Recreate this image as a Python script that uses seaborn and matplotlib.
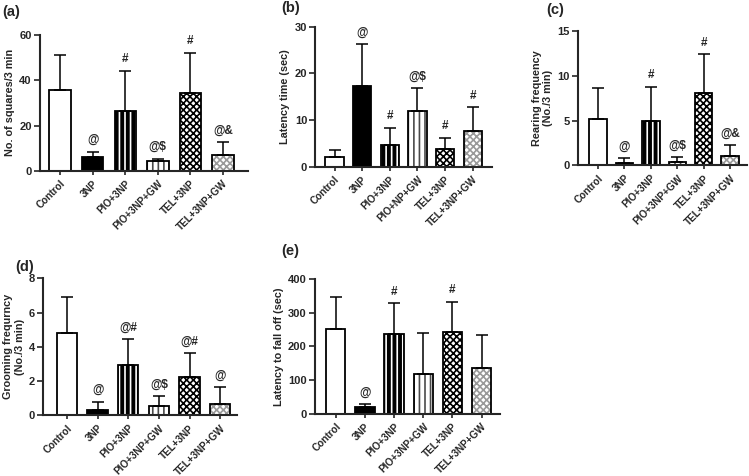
import numpy as np
import matplotlib
matplotlib.use('Agg')
import matplotlib.pyplot as plt
import seaborn as sns
from matplotlib.patches import Rectangle

# groups on the x axis
groups = ['Control', '3NP', 'PIO+3NP', 'PIO+3NP+GW', 'TEL+3NP', 'TEL+3NP+GW']
groups_b = ['Control', '3NP', 'PIO+3NP', 'PIO+NP+GW', 'TEL+3NP', 'TEL+3NP+GW']

# (a) open field - squares crossed
squares_mean = [35.8, 6.1, 26.5, 4.4, 34.5, 7.0]
squares_sd = [15.5, 2.4, 17.6, 1.0, 17.6, 5.8]
squares_sig = ['', '@', '#', '@$', '#', '@&']

# (b) latency time
latency_mean = [2.1, 17.3, 4.6, 11.9, 3.9, 7.6]
latency_sd = [1.5, 9.0, 3.7, 4.9, 2.3, 5.1]
latency_sig = ['', '@', '#', '@$', '#', '#']

# (c) rearing
rearing_mean = [5.2, 0.3, 5.0, 0.4, 8.1, 1.0]
rearing_sd = [3.45, 0.5, 3.8, 0.5, 4.3, 1.25]
rearing_sig = ['', '@', '#', '@$', '#', '@&']

# (d) grooming
grooming_mean = [4.8, 0.32, 2.95, 0.57, 2.24, 0.65]
grooming_sd = [2.1, 0.47, 1.48, 0.56, 1.40, 1.0]
grooming_sig = ['', '@', '@#', '@$', '@#', '@']

# (e) rotarod
fall_mean = [253, 21, 236, 119, 242, 135]
fall_sd = [93, 8, 92, 121, 91, 98]
fall_sig = ['', '@', '#', '', '#', '']

face_colors = ['white', 'black', 'black', 'white', 'white', 'white']
hatches = [None, None, '|||', '|||', 'xxxxx', 'xxxxx']
hatch_colors = [None, None, 'white', '#4a4a4a', 'black', '#9a9a9a']

sns.set_style('ticks')
plt.rcParams['font.family'] = ['Liberation Sans', 'DejaVu Sans']
plt.rcParams['font.weight'] = 'bold'
plt.rcParams['hatch.linewidth'] = 1.2


def bar_panel(ax, labels, mean, sd, sig, ymax, ystep, ylabel, xlim):
    sns.barplot(x=labels, y=mean, hue=labels, palette=face_colors, legend=False,
                ax=ax, width=0.66, edgecolor='black', linewidth=1.3, saturation=1)
    xs = []
    for p, h, hc in zip(ax.patches, hatches, hatch_colors):
        xs.append(p.get_x() + p.get_width() / 2)
        if h:
            p.set_hatch(h)
            p.set_edgecolor(hc)
            p.set_linewidth(0)
            ax.add_patch(Rectangle(p.get_xy(), p.get_width(), p.get_height(),
                                   fill=False, edgecolor='black', linewidth=1.3,
                                   zorder=p.get_zorder() + 0.1))
    ax.errorbar(xs, mean, yerr=[np.zeros(len(sd)), sd], fmt='none', ecolor='black',
                elinewidth=1.1, capsize=4, capthick=1.1, zorder=1)
    for x, m, s, t in zip(xs, mean, sd, sig):
        if t:
            ax.annotate(t, (x, m + s), xytext=(0, 4), textcoords='offset points',
                        ha='center', va='bottom', fontsize=8.5, fontweight='bold')
    ax.set_ylim(0, ymax)
    ax.set_yticks(np.arange(0, ymax + ystep / 2, ystep))
    ax.set_xlim(*xlim)
    ax.set_ylabel(ylabel, fontsize=7.8, fontweight='bold', labelpad=3)
    ax.tick_params(axis='y', direction='out', length=4, width=1.2, labelsize=8, pad=2)
    ax.tick_params(axis='x', direction='out', length=3, width=1.2, labelsize=7.2, pad=2.5)
    ax.set_xticks(range(len(labels)))
    ax.set_xticklabels(labels, rotation=45, ha='right', va='top',
                       rotation_mode='anchor', fontweight='bold')
    for t in ax.get_yticklabels():
        t.set_fontweight('bold')
    for s in ['left', 'bottom']:
        ax.spines[s].set_linewidth(1.5)
    sns.despine(ax=ax)


fig = plt.figure(figsize=(7.49, 4.76), dpi=100)

ax_a = fig.add_axes([0.0534, 0.6408, 0.278, 0.286])
bar_panel(ax_a, groups, squares_mean, squares_sd, squares_sig, 60, 20,
          'No. of squares/3 min', (-0.62, 5.78))

ax_b = fig.add_axes([0.4212, 0.6498, 0.2357, 0.294])
bar_panel(ax_b, groups_b, latency_mean, latency_sd, latency_sig, 30, 10,
          'Latency time (sec)', (-0.69, 5.7))

ax_c = fig.add_axes([0.7717, 0.6527, 0.2256, 0.282])
bar_panel(ax_c, groups, rearing_mean, rearing_sd, rearing_sig, 15, 5,
          'Rearing frequency\n(No./3 min)', (-0.76, 5.64))

ax_d = fig.add_axes([0.0578, 0.1275, 0.258, 0.2878])
bar_panel(ax_d, groups, grooming_mean, grooming_sd, grooming_sig, 8, 2,
          'Grooming frequrncy\n(No./3 min)', (-0.77, 5.53))

ax_e = fig.add_axes([0.4206, 0.1303, 0.247, 0.2836])
bar_panel(ax_e, groups, fall_mean, fall_sd, fall_sig, 400, 100,
          'Latency to fall off (sec)', (-0.71, 5.63))

# panel letters
for lbl, x, y in [('(a)', 0.003, 0.975), ('(b)', 0.376, 0.983), ('(c)', 0.729, 0.979),
                  ('(d)', 0.021, 0.44), ('(e)', 0.376, 0.473)]:
    fig.text(x, y, lbl, fontsize=10.5, fontweight='bold', va='center')

fig.savefig('out.png', dpi=100)
